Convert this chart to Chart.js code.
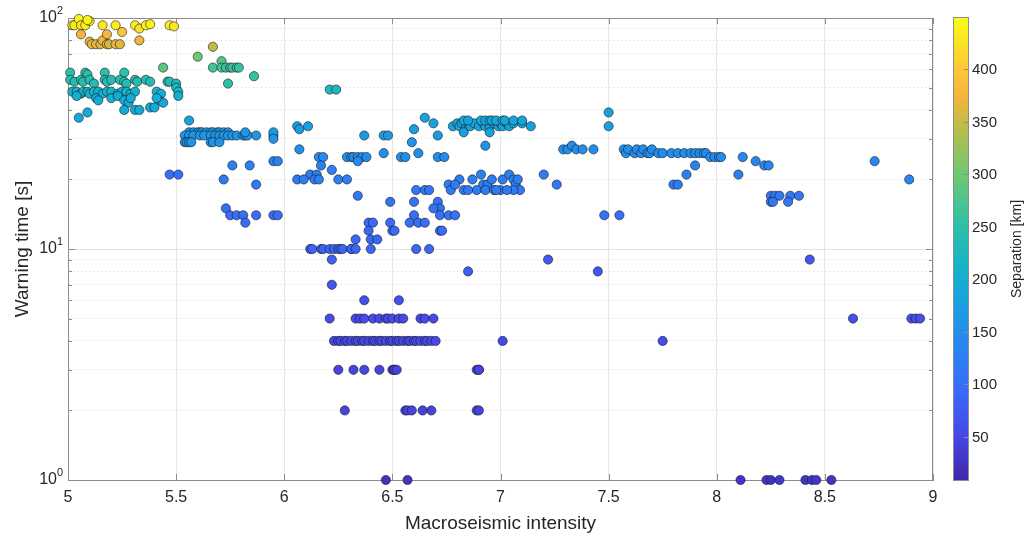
<!DOCTYPE html>
<html>
<head>
<meta charset="utf-8">
<script src="https://cdn.jsdelivr.net/npm/chart.js@4.4.0/dist/chart.umd.min.js"></script>
<style>
  html, body { margin: 0; padding: 0; background: #fff; }
</style>
</head>
<body>
<canvas id="quakeChart" width="1030" height="540"></canvas>
<script>
// Macroseismic intensity (x) for every event pair
const intensity = [
    // yellow, far pairs
    5.02, 5.03, 5.05, 5.06, 5.08, 5.10, 5.16, 5.22, 5.31, 5.33, 5.36, 5.38, 5.47, 5.49, 5.09,
    // orange
    5.06, 5.10, 5.11, 5.13, 5.15, 5.16, 5.18, 5.18, 5.19, 5.22, 5.24, 5.25, 5.33, 5.67,
    // green
    5.60, 5.44, 5.71, 5.67, 5.71, 5.73, 5.75, 5.76, 5.78, 5.79, 5.74, 5.86,
    // teal
    5.01, 5.08, 5.09, 5.17, 5.26,
    5.01, 5.03, 5.06, 5.07, 5.10, 5.12, 5.17, 5.18, 5.20, 5.24, 5.26, 5.27, 5.31, 5.32, 5.36, 5.38, 5.46, 5.47, 5.50,
    5.50, 5.51, 6.21, 6.24,
    // cyan
    5.02, 5.04, 5.06, 5.07, 5.09, 5.10, 5.12, 5.14, 5.16, 5.18, 5.20, 5.23, 5.25, 5.27, 5.29, 5.31, 5.41, 5.43,
    5.04, 5.13, 5.14, 5.20, 5.23, 5.26, 5.28, 5.29, 5.42, 5.44, 5.41, 5.51,
    5.09, 5.26, 5.31, 5.33, 5.38, 5.40, 5.05,
    // blue band around 30 s
    5.56,
    5.56, 5.58, 5.60, 5.61, 5.62, 5.64, 5.66, 5.67, 5.69, 5.70, 5.72, 5.74,
    5.54, 5.56, 5.58, 5.61, 5.63, 5.66, 5.68, 5.70, 5.72, 5.74, 5.76, 5.78, 5.81, 5.82, 5.83, 5.87, 5.95,
    5.54, 5.55, 5.56, 5.57, 5.66, 5.67, 5.70,
    5.82, 5.95, 5.95,
    // 13-24 s below it
    5.47, 5.51, 5.76, 5.84, 5.95, 5.97, 5.72, 5.87, 5.73, 5.75, 5.78, 5.81, 5.87, 5.95, 5.97, 5.82,
    // 6.0 - 6.7
    6.06, 6.07, 6.11, 6.37, 6.46, 6.48, 6.65, 6.69, 6.60, 6.71,
    6.07, 6.16, 6.18, 6.29, 6.31, 6.32, 6.34, 6.36, 6.38, 6.34, 6.46, 6.54, 6.56, 6.59, 6.62, 6.71, 6.74, 6.93,
    6.12, 6.15, 6.17, 6.22, 6.06, 6.09, 6.14, 6.16, 6.25, 6.29,
    6.34, 6.49, 6.60, 6.61, 6.65, 6.67, 6.71, 6.72, 6.69, 6.72, 6.60, 6.76, 6.79, 6.58, 6.62, 6.65, 6.72, 6.73, 6.39, 6.41,
    6.49, 6.39, 6.50, 6.51, 6.33, 6.40, 6.43,
    6.12, 6.13, 6.17, 6.18, 6.21, 6.23, 6.25, 6.26, 6.27, 6.31, 6.31, 6.33, 6.40, 6.61, 6.67, 6.22, 6.22, 6.85, 6.37, 6.53,
    // short warning rows
    6.21, 6.33, 6.35, 6.37, 6.41, 6.44, 6.47, 6.48, 6.50, 6.53, 6.55, 6.63, 6.65, 6.69,
    6.23, 6.25, 6.26, 6.28, 6.29, 6.31, 6.33, 6.34, 6.36, 6.37, 6.39, 6.41, 6.42, 6.44, 6.45,
    6.47, 6.49, 6.50, 6.52, 6.53, 6.55, 6.57, 6.58, 6.60, 6.61, 6.63, 6.65, 6.66, 6.68, 6.70,
    6.25, 6.32, 6.37, 6.44, 6.50, 6.51, 6.51, 6.52, 6.89, 6.90, 6.90,
    6.28, 6.56, 6.57, 6.59, 6.64, 6.68, 6.89, 6.90,
    6.47, 6.57,
    // 6.8 - 7.1 upper
    6.78, 6.80, 6.81, 6.82, 6.84, 6.85, 6.86, 6.88, 6.90, 6.92, 6.93, 6.95, 6.95, 6.97, 6.99, 7.00, 7.01, 7.03, 7.04, 7.06, 7.10, 7.14,
    6.83, 6.85, 6.91, 6.93, 6.95, 6.96, 6.98, 7.01, 7.02, 7.06, 7.10,
    6.83, 6.95,
    // 6.8 - 7.1 lower
    6.76, 6.81, 6.83, 6.77, 6.79, 6.87, 6.91, 6.92, 6.94, 6.96, 7.01, 7.04, 7.06, 7.07, 7.09, 6.89, 6.93, 6.97, 7.00, 7.06,
    6.98, 7.03, 7.08, 6.85,
    // 7.2 - 7.75
    7.20, 7.26, 7.29, 7.31, 7.33, 7.35, 7.38, 7.43, 7.50, 7.50, 7.48, 7.55, 7.22, 7.45, 7.01, 7.75,
    // 7.55 - 8.0 band
    7.57, 7.58, 7.59, 7.62, 7.63, 7.65, 7.66, 7.68, 7.69, 7.70, 7.73, 7.75, 7.79, 7.82, 7.85, 7.88, 7.90, 7.92, 7.94, 7.95,
    7.97, 7.99, 8.01, 8.02,
    7.90, 7.86, 7.80, 7.82,
    // above 8
    8.12, 8.18, 8.22, 8.24, 8.10, 8.25, 8.27, 8.29, 8.34, 8.38, 8.25, 8.26, 8.33, 8.43, 8.73, 8.89, 8.63, 8.90, 8.92, 8.94,
    8.11, 8.23, 8.25, 8.29, 8.41, 8.44, 8.46, 8.53
];

// Warning time [s]
const warningTime = [
    93, 93, 99, 93, 93, 97, 93, 93, 93, 90, 93, 94, 93, 92, 98,
    85, 79, 77, 77, 77, 80, 77, 85, 77, 77, 77, 87, 80, 75,
    68, 61, 65, 61, 61, 61, 61, 61, 61, 61, 52, 56,
    58, 58, 57, 58, 58,
    54, 53, 54, 53, 54, 52, 54, 53, 54, 54, 53, 52, 54, 53, 54, 53, 53, 53, 52,
    50, 48, 49, 49,
    48, 48, 47, 48, 48, 47, 48, 48, 47, 48, 48, 47, 48, 48, 47, 48, 48, 47,
    46, 45, 44, 45, 46, 44, 43, 45, 44, 43, 45, 46,
    39, 40, 40, 40, 41, 41, 37,
    36,
    32, 32, 32, 32, 32, 32, 32, 32, 32, 32, 32, 32,
    31, 31, 31, 31, 31, 31, 31, 31, 31, 31, 31, 31, 31, 31, 31, 31, 31,
    29, 29, 29, 29, 29, 29, 29,
    32, 32, 30,
    21, 21, 23, 23, 24, 24, 20, 19, 15, 14, 14, 14, 14, 14, 14, 13,
    34, 33, 34, 31, 31, 31, 37, 35, 33, 31,
    27, 25, 25, 25, 25, 25, 25, 25, 25, 24, 26, 25, 25, 29, 26, 25, 25, 28,
    21, 21, 23, 22, 20, 20, 20, 20, 20, 20,
    17, 16, 16, 18, 18, 18, 16, 15, 15, 14, 14, 14, 14, 13, 13, 13, 12, 12, 13, 13,
    13, 12, 12, 12, 11, 11, 11,
    10, 10, 10, 10, 10, 10, 10, 10, 10, 10, 10, 10, 10, 10, 10, 9, 7, 8, 6, 6,
    5, 5, 5, 5, 5, 5, 5, 5, 5, 5, 5, 5, 5, 5,
    4, 4, 4, 4, 4, 4, 4, 4, 4, 4, 4, 4, 4, 4, 4,
    4, 4, 4, 4, 4, 4, 4, 4, 4, 4, 4, 4, 4, 4, 4,
    3, 3, 3, 3, 3, 3, 3, 3, 3, 3, 3,
    2, 2, 2, 2, 2, 2, 2, 2,
    1, 1,
    34, 35, 34, 35, 34, 35, 34, 35, 34, 35, 34, 35, 34, 35, 34, 35, 34, 35, 34, 35, 35, 34,
    36, 36, 36, 36, 36, 36, 36, 36, 36, 36, 36,
    32, 32,
    19, 20, 18, 18, 19, 20, 21, 19, 19, 20, 20, 21, 20, 19, 18, 18, 18, 18, 18, 18,
    18, 18, 20, 18,
    21, 19, 27, 27, 28, 27, 27, 27, 39, 34, 14, 14, 9, 8, 4, 4,
    27, 26, 27, 26, 27, 26, 27, 26, 26, 27, 26, 26, 26, 26, 26, 26, 26, 26, 26, 26,
    25, 25, 25, 25,
    23, 21, 19, 19,
    25, 24, 23, 23, 21, 17, 17, 17, 17, 17, 16, 16, 16, 9, 24, 20, 5, 5, 5, 5,
    1, 1, 1, 1, 1, 1, 1, 1
];

// Separation [km], drives the marker colour
const separation = [
    440, 435, 445, 430, 440, 438, 432, 436, 440, 425, 438, 442, 438, 430, 444,
    375, 370, 365, 368, 362, 372, 365, 378, 360, 366, 364, 395, 370, 345,
    300, 285, 280, 270, 268, 265, 262, 265, 262, 260, 250, 258,
    250, 248, 246, 245, 250,
    240, 236, 242, 238, 240, 235, 242, 238, 240, 244, 236, 238, 240, 236, 242, 238, 240, 236, 232,
    225, 220, 228, 225,
    212, 208, 210, 214, 206, 210, 212, 208, 205, 210, 214, 206, 210, 208, 212, 206, 210, 204,
    200, 198, 196, 200, 198, 196, 194, 198, 196, 194, 200, 205,
    192, 190, 192, 190, 192, 194, 188,
    182,
    165, 162, 166, 164, 168, 162, 165, 166, 163, 167, 164, 165,
    160, 162, 158, 161, 160, 163, 159, 161, 160, 162, 158, 160, 161, 159, 160, 158, 162,
    156, 158, 155, 157, 156, 158, 155,
    160, 162, 158,
    100, 102, 125, 128, 130, 130, 118, 120, 100, 98, 100, 102, 100, 98, 100, 95,
    170, 168, 172, 165, 168, 165, 180, 178, 172, 170,
    150, 148, 146, 148, 150, 147, 149, 148, 150, 145, 152, 148, 150, 158, 152, 148, 146, 155,
    125, 126, 130, 128, 122, 124, 122, 125, 124, 126,
    110, 105, 108, 112, 112, 112, 108, 105, 105, 103, 103, 105, 105, 100, 100, 100, 98, 98, 95, 95,
    98, 92, 95, 95, 90, 92, 92,
    88, 86, 90, 87, 88, 85, 89, 86, 88, 87, 90, 86, 88, 92, 90, 80, 68, 78, 62, 62,
    56, 55, 54, 56, 55, 54, 56, 55, 54, 56, 55, 54, 56, 55,
    50, 52, 49, 51, 50, 52, 49, 51, 50, 52, 49, 51, 50, 52, 49,
    51, 50, 52, 49, 51, 50, 52, 49, 51, 50, 52, 49, 51, 50, 52,
    48, 47, 49, 48, 47, 49, 48, 47, 49, 48, 47,
    46, 45, 47, 46, 45, 47, 46, 45,
    24, 26,
    182, 180, 184, 181, 185, 182, 186, 183, 181, 185, 182, 184, 186, 181, 183, 185, 182, 184, 186, 182, 184, 180,
    188, 186, 190, 187, 189, 186, 188, 190, 187, 189, 186,
    176, 178,
    124, 126, 120, 121, 123, 126, 128, 124, 123, 126, 125, 128, 126, 124, 121, 120, 121, 120, 122, 121,
    120, 121, 125, 120,
    120, 118, 150, 150, 152, 150, 150, 148, 185, 178, 102, 100, 72, 70, 55, 58,
    150, 148, 152, 147, 150, 148, 151, 147, 149, 150, 148, 147, 146, 148, 147, 146, 148, 146, 147, 145,
    146, 144, 145, 143,
    130, 125, 122, 122,
    140, 138, 135, 135, 130, 115, 115, 115, 112, 112, 112, 112, 110, 72, 140, 132, 60, 58, 60, 58,
    28, 30, 25, 32, 28, 26, 30, 27
];

const yTickValues = [1, 2, 3, 4, 5, 6, 7, 8, 9, 10, 20, 30, 40, 50, 60, 70, 80, 90, 100];
const sepTicks = [50, 100, 150, 200, 250, 300, 350, 400];
const sepMin = 8;
const sepMax = 450;

if (intensity.length !== warningTime.length || intensity.length !== separation.length) {
    throw new Error('length mismatch ' + intensity.length + ' ' + warningTime.length + ' ' + separation.length);
}

const FONT = "'Liberation Sans', Arial, Helvetica, sans-serif";
const TEXT = '#262626';
const AXIS = '#8c8c8c';

// parula-like colour map
const cmap = [
    [0.00, [62, 38, 168]],
    [0.10, [71, 72, 232]],
    [0.20, [56, 108, 250]],
    [0.32, [34, 142, 236]],
    [0.43, [16, 174, 214]],
    [0.55, [44, 192, 168]],
    [0.66, [110, 200, 115]],
    [0.77, [195, 187, 70]],
    [0.83, [246, 180, 62]],
    [0.89, [252, 200, 52]],
    [1.00, [249, 251, 21]]
];

function sepColor(v) {
    let t = (v - sepMin) / (sepMax - sepMin);
    t = Math.max(0, Math.min(1, t));
    for (let i = 1; i < cmap.length; i++) {
        if (t <= cmap[i][0]) {
            const a = cmap[i - 1], b = cmap[i];
            const f = (t - a[0]) / (b[0] - a[0]);
            const c = a[1].map((x, k) => Math.round(x + (b[1][k] - x) * f));
            return `rgb(${c[0]}, ${c[1]}, ${c[2]})`;
        }
    }
    return 'rgb(249, 251, 21)';
}

function isDecade(v) {
    return v === 1 || v === 10 || v === 100;
}

// box, inward ticks and the power-of-ten labels
const axesFrame = {
    id: 'axesFrame',
    beforeDatasetsDraw(chart) {
        const { ctx, chartArea: a, scales: { x, y } } = chart;
        ctx.save();
        ctx.strokeStyle = AXIS;
        ctx.lineWidth = 1;
        ctx.beginPath();
        ctx.moveTo(a.left, a.top + 0.5);
        ctx.lineTo(a.right, a.top + 0.5);
        ctx.moveTo(a.right - 0.5, a.top);
        ctx.lineTo(a.right - 0.5, a.bottom);
        for (let v = 5; v <= 9; v += 0.5) {
            const px = Math.round(x.getPixelForValue(v)) + 0.5;
            ctx.moveTo(px, a.bottom);
            ctx.lineTo(px, a.bottom - 6);
            ctx.moveTo(px, a.top);
            ctx.lineTo(px, a.top + 6);
        }
        yTickValues.forEach(v => {
            const py = Math.round(y.getPixelForValue(v)) + 0.5;
            const len = isDecade(v) ? 7 : 4;
            ctx.moveTo(a.left, py);
            ctx.lineTo(a.left + len, py);
            ctx.moveTo(a.right, py);
            ctx.lineTo(a.right - len, py);
        });
        ctx.stroke();
        ctx.restore();
    },
    afterDraw(chart) {
        const { ctx, chartArea: a, scales: { y } } = chart;
        ctx.save();
        ctx.fillStyle = TEXT;
        ctx.textBaseline = 'middle';
        [[1, '0'], [10, '1'], [100, '2']].forEach(([v, e]) => {
            const py = y.getPixelForValue(v);
            ctx.font = `16px ${FONT}`;
            ctx.textAlign = 'right';
            ctx.fillText('10', a.left - 11, py);
            ctx.font = `11px ${FONT}`;
            ctx.textAlign = 'left';
            ctx.fillText(e, a.left - 11, py - 7);
        });
        ctx.restore();
    }
};

const colorBar = {
    id: 'colorBar',
    afterDraw(chart) {
        const { ctx, chartArea: a } = chart;
        const left = a.right + 20, w = 15;
        const top = a.top - 1, bottom = a.bottom + 1;
        const h = bottom - top;
        ctx.save();
        for (let i = 0; i < h; i++) {
            const v = sepMin + (sepMax - sepMin) * (1 - (i + 0.5) / h);
            ctx.fillStyle = sepColor(v);
            ctx.fillRect(left, top + i, w, 1);
        }
        ctx.strokeStyle = AXIS;
        ctx.lineWidth = 1;
        ctx.strokeRect(left + 0.5, top + 0.5, w, h - 1);
        ctx.fillStyle = TEXT;
        ctx.font = `15px ${FONT}`;
        ctx.textAlign = 'left';
        ctx.textBaseline = 'middle';
        ctx.beginPath();
        sepTicks.forEach(v => {
            const py = Math.round(bottom - (v - sepMin) / (sepMax - sepMin) * h) + 0.5;
            ctx.moveTo(left + w, py);
            ctx.lineTo(left + w - 4, py);
            ctx.fillText(String(v), left + w + 4, py);
        });
        ctx.stroke();
        ctx.translate(left + w + 49, (top + bottom) / 2);
        ctx.rotate(-Math.PI / 2);
        ctx.textAlign = 'center';
        ctx.font = `14px ${FONT}`;
        ctx.fillText('Separation [km]', 0, 0);
        ctx.restore();
    }
};

document.addEventListener('DOMContentLoaded', () => {
    const ctx = document.getElementById('quakeChart').getContext('2d');
    const points = intensity.map((v, i) => ({ x: v, y: warningTime[i] }));

    new Chart(ctx, {
        type: 'scatter',
        data: {
            datasets: [{
                data: points,
                pointRadius: 4.6,
                pointHoverRadius: 4.6,
                borderWidth: 0.7,
                borderColor: 'rgba(25, 25, 25, 0.85)',
                backgroundColor: c => sepColor(separation[c.dataIndex]),
                clip: false
            }]
        },
        options: {
            responsive: false,
            animation: false,
            events: [],
            layout: { padding: { top: 18, right: 97, left: 0, bottom: 0 } },
            plugins: {
                legend: { display: false },
                tooltip: { enabled: false }
            },
            scales: {
                x: {
                    type: 'linear',
                    min: 5,
                    max: 9,
                    afterFit: s => { s.height = 60; },
                    ticks: {
                        stepSize: 0.5,
                        padding: 8,
                        maxRotation: 0,
                        color: TEXT,
                        font: { family: FONT, size: 16 },
                        callback: v => String(Math.round(v * 10) / 10)
                    },
                    grid: { color: '#e6e6e6', drawTicks: false },
                    border: { color: AXIS },
                    title: {
                        display: true,
                        text: 'Macroseismic intensity',
                        color: TEXT,
                        font: { family: FONT, size: 19 },
                        padding: { top: 0, bottom: 5 }
                    }
                },
                y: {
                    type: 'logarithmic',
                    min: 1,
                    max: 100,
                    afterFit: s => { s.width = 68; },
                    afterBuildTicks: s => {
                        s.ticks = yTickValues.map(v => ({ value: v, major: isDecade(v) }));
                    },
                    ticks: { display: false },
                    grid: {
                        drawTicks: false,
                        color: c => (c.tick && isDecade(c.tick.value)) ? '#e3e3e3' : '#d9d9d9'
                    },
                    border: {
                        color: AXIS,
                        dash: c => (c.tick && !isDecade(c.tick.value)) ? [1, 3] : []
                    },
                    title: {
                        display: true,
                        text: 'Warning time [s]',
                        color: TEXT,
                        font: { family: FONT, size: 19 },
                        padding: { top: 11, bottom: 0 }
                    }
                }
            }
        },
        plugins: [axesFrame, colorBar]
    });
});
</script>
</body>
</html>
